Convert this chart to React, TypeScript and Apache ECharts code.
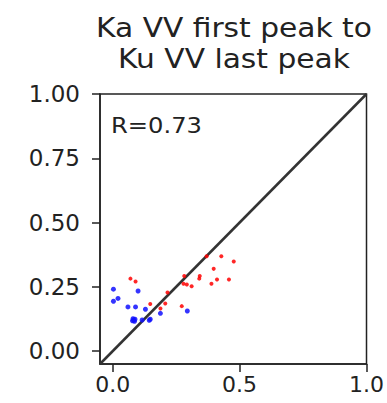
import React, { useEffect, useRef } from "react";
import * as echarts from "echarts";

const titleLines = ["Ka VV first peak to", "Ku VV last peak"];
const rLabel = "R=0.73";

const xTicks = [0, 0.5, 1.0];
const yTicks = [0, 0.25, 0.5, 0.75, 1.0];
const axisMin = -0.05;
const axisMax = 1.0;

// Ka first peak (x) vs Ku last peak (y)
const redX = [0.07, 0.09, 0.148, 0.188, 0.207, 0.216, 0.272, 0.279, 0.292, 0.311, 0.282, 0.341, 0.343, 0.37, 0.389, 0.398, 0.411, 0.428, 0.458, 0.477];
const redY = [0.282, 0.271, 0.183, 0.166, 0.185, 0.228, 0.175, 0.262, 0.259, 0.252, 0.292, 0.282, 0.292, 0.369, 0.262, 0.32, 0.279, 0.369, 0.279, 0.349];

const blueX = [0.003, 0.003, 0.021, 0.1, 0.06, 0.09, 0.129, 0.188, 0.294, 0.078, 0.083, 0.088, 0.08, 0.086, 0.116, 0.148, 0.144];
const blueY = [0.241, 0.194, 0.205, 0.234, 0.172, 0.172, 0.163, 0.147, 0.156, 0.118, 0.121, 0.124, 0.126, 0.116, 0.121, 0.124, 0.12];

const diagonal = [axisMin, axisMax];

export default function App() {
  const ref = useRef<HTMLDivElement>(null);

  useEffect(() => {
    if (!ref.current) return;
    const chart = echarts.init(ref.current, null, { renderer: "svg" });
    const font = "DejaVu Sans";
    const ink = "#222";

    chart.setOption({
      animation: false,
      backgroundColor: "#fff",
      textStyle: { fontFamily: font },
      grid: {
        left: 100,
        top: 94,
        width: 268,
        height: 270,
        show: true,
        borderColor: ink,
        borderWidth: 1.5,
        backgroundColor: "transparent",
      },
      graphic: [
        {
          type: "text",
          x: 234,
          y: 12,
          scaleX: 1.1,
          style: {
            text: titleLines.join("\n"),
            fontFamily: font,
            fontSize: 27,
            lineHeight: 31,
            fill: ink,
            textAlign: "center",
          },
        },
        {
          type: "text",
          x: 111,
          y: 114,
          scaleX: 1.1,
          style: { text: rLabel, fontFamily: font, fontSize: 22, fill: ink },
        },
      ],
      xAxis: {
        type: "value",
        min: axisMin,
        max: axisMax,
        axisLine: { show: true, onZero: false, lineStyle: { color: ink, width: 1.5 } },
        axisTick: { show: true, customValues: xTicks, length: 8, lineStyle: { color: ink, width: 1.5 } },
        axisLabel: {
          customValues: xTicks,
          formatter: (v: number) => v.toFixed(1),
          fontSize: 22,
          color: ink,
          margin: 9,
          fontFamily: font,
          hideOverlap: false,
        },
        splitLine: { show: false },
      },
      yAxis: {
        type: "value",
        min: axisMin,
        max: axisMax,
        axisLine: { show: true, onZero: false, lineStyle: { color: ink, width: 1.5 } },
        axisTick: { show: true, customValues: yTicks, length: 8, lineStyle: { color: ink, width: 1.5 } },
        axisLabel: {
          customValues: yTicks,
          formatter: (v: number) => v.toFixed(2),
          fontSize: 23,
          color: ink,
          margin: 20,
          fontFamily: font,
        },
        splitLine: { show: false },
      },
      series: [
        {
          type: "line",
          data: diagonal.map((v) => [v, v]),
          showSymbol: false,
          symbol: "none",
          lineStyle: { color: "#333", width: 2.5 },
          z: 1,
        },
        {
          type: "scatter",
          data: redX.map((x, i) => [x, redY[i]]),
          symbol: "circle",
          symbolSize: 4,
          itemStyle: { color: "#ff0000", opacity: 0.85 },
          z: 2,
        },
        {
          type: "scatter",
          data: blueX.map((x, i) => [x, blueY[i]]),
          symbol: "circle",
          symbolSize: 5,
          itemStyle: { color: "#1010ff", opacity: 0.85 },
          z: 3,
        },
      ],
    });

    return () => chart.dispose();
  }, []);

  return (
    <div
      ref={ref}
      style={{ position: "fixed", left: 0, top: 0, width: 387, height: 403 }}
    />
  );
}
